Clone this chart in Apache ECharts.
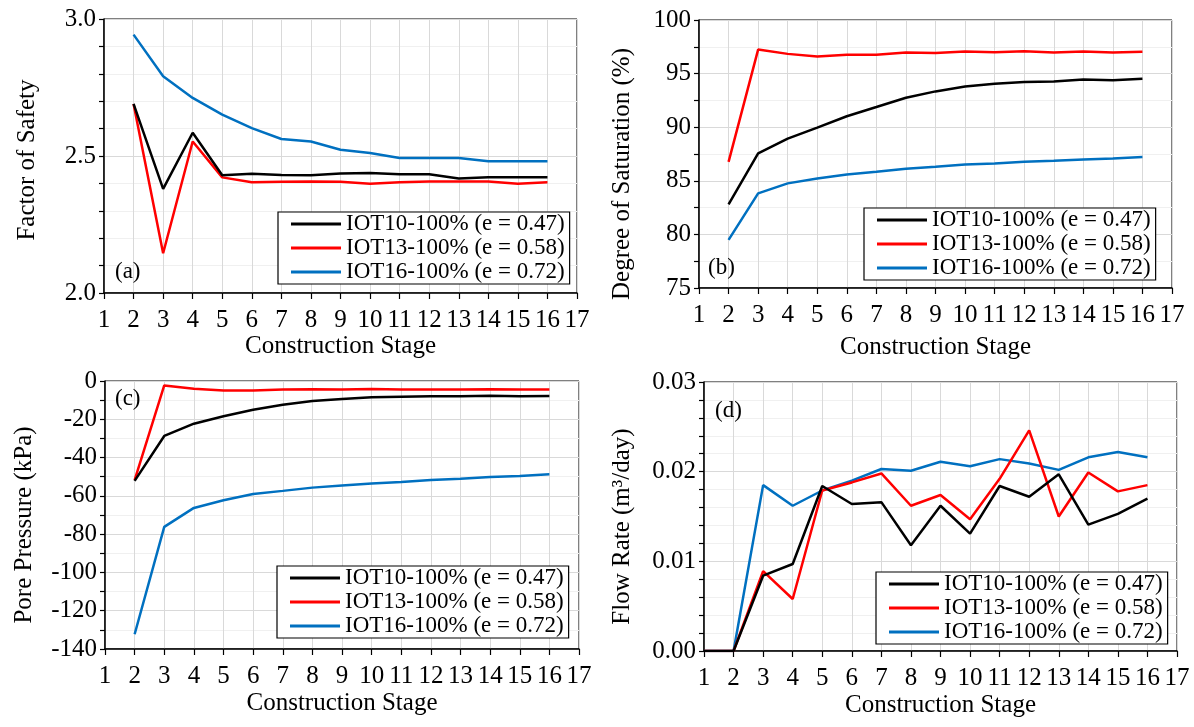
<!DOCTYPE html>
<html>
<head>
<meta charset="utf-8">
<script src="https://cdn.jsdelivr.net/npm/echarts@6/dist/echarts.min.js"></script>
<style>
html,body{margin:0;padding:0;background:#fff;}
#c{width:1194px;height:727px;}
</style>
</head>
<body>
<div id="c"></div>
<script>
// ---- data ----
const seriesNames = ['IOT10-100% (e = 0.47)', 'IOT13-100% (e = 0.58)', 'IOT16-100% (e = 0.72)'];
const colors = ['#000000', '#ff0000', '#0070c0'];

const stagesABC = [2,3,4,5,6,7,8,9,10,11,12,13,14,15,16];
const stagesD = [1,2,3,4,5,6,7,8,9,10,11,12,13,14,15,16];

// (a) Factor of Safety
const fosIOT10 = [2.69,2.38,2.585,2.43,2.435,2.431,2.43,2.436,2.438,2.433,2.433,2.418,2.422,2.422,2.422];
const fosIOT13 = [2.69,2.145,2.553,2.422,2.404,2.406,2.407,2.406,2.399,2.404,2.407,2.407,2.407,2.399,2.404];
const fosIOT16 = [2.943,2.791,2.712,2.651,2.602,2.562,2.553,2.523,2.511,2.493,2.493,2.493,2.481,2.481,2.481];

// (b) Degree of Saturation (%)
const satIOT10 = [82.8,87.55,88.94,89.96,91.02,91.88,92.75,93.34,93.8,94.05,94.21,94.27,94.45,94.39,94.52];
const satIOT13 = [86.77,97.24,96.84,96.59,96.75,96.75,96.96,96.93,97.06,97.0,97.09,96.96,97.06,96.96,97.03];
const satIOT16 = [79.49,83.83,84.76,85.22,85.59,85.84,86.12,86.31,86.52,86.62,86.77,86.87,86.99,87.08,87.21];

// (c) Pore Pressure (kPa)
const ppIOT10 = [-52.2,-28.7,-22.3,-18.4,-15.0,-12.4,-10.4,-9.4,-8.5,-8.2,-8.0,-8.0,-7.7,-8.0,-7.8];
const ppIOT13 = [-51.8,-2.3,-4.0,-4.9,-4.9,-4.5,-4.3,-4.5,-4.2,-4.5,-4.5,-4.5,-4.3,-4.5,-4.5];
const ppIOT16 = [-132.3,-76.2,-66.3,-62.3,-59.0,-57.4,-55.7,-54.6,-53.6,-52.7,-51.7,-51.0,-50.1,-49.6,-48.7];

// (d) Flow Rate (m3/day)
const frIOT10 = [0,0,0.0084,0.0097,0.0184,0.0164,0.0166,0.0118,0.0162,0.0131,0.0184,0.0172,0.0197,0.0141,0.0153,0.0170];
const frIOT13 = [0,0,0.0089,0.0058,0.0179,0.0188,0.0198,0.0162,0.0174,0.0147,0.0192,0.0246,0.0150,0.0199,0.0178,0.0185];
const frIOT16 = [0,0,0.0185,0.0162,0.0179,0.0190,0.0203,0.0201,0.0211,0.0206,0.0214,0.0209,0.0202,0.0216,0.0222,0.0216];

// x tick range and panel tags
const xMin = 1, xMax = 17;
const panelLabels = ['(a)', '(b)', '(c)', '(d)'];

// ---- build ----
const FONT = 'Times New Roman, Liberation Serif, serif';
const chart = echarts.init(document.getElementById('c'), null, {renderer: 'canvas'});

const grids = [
  {left: 104, top: 19, width: 473, height: 274},
  {left: 699, top: 20, width: 473, height: 268},
  {left: 105, top: 381, width: 474, height: 268},
  {left: 704, top: 382, width: 473, height: 269}
];

const yCfg = [
  {min: 2.0, max: 3.0, interval: 0.5, minor: 5, fmt: v => v.toFixed(1), name: 'Factor of Safety', gap: 64, shift: 8},
  {min: 75, max: 100, interval: 5, minor: 2, fmt: v => String(v), name: 'Degree of Saturation (%)', gap: 64, shift: 40},
  {min: -140, max: 0, interval: 20, minor: 2, fmt: v => String(v), name: 'Pore Pressure (kPa)', gap: 68, shift: 20},
  {min: 0, max: 0.03, interval: 0.01, minor: 5, fmt: v => v.toFixed(2), name: 'Flow Rate (m\u00B3/day)', gap: 69, shift: 20}
];
const xNameGap = [41, 47, 42, 42];

const xAxes = grids.map((g, i) => ({
  type: 'value', gridIndex: i, min: xMin, max: xMax, interval: 1,
  name: 'Construction Stage', nameLocation: 'middle', nameGap: xNameGap[i],
  nameTextStyle: {fontFamily: FONT, fontSize: 25, color: '#000'},
  axisLine: {show: true, onZero: false, lineStyle: {color: '#000', width: 1.5}},
  axisTick: {show: true, length: 6, lineStyle: {color: '#000', width: 1.2}},
  axisLabel: {fontFamily: FONT, fontSize: 25, color: '#000', margin: 15},
  splitLine: {show: true, lineStyle: {color: '#d9d9d9', width: 1}}
}));

const yAxes = yCfg.map((c, i) => ({
  type: 'value', gridIndex: i, min: c.min, max: c.max, interval: c.interval,
  name: c.name, nameLocation: 'middle', nameGap: c.gap, nameRotate: 90,
  nameTextStyle: {fontFamily: FONT, fontSize: 25, color: '#000', padding: [0, c.shift, 0, 0]},
  axisLine: {show: true, onZero: false, lineStyle: {color: '#000', width: 1.5}},
  axisTick: {show: true, length: 5, lineStyle: {color: '#000', width: 1.2}},
  minorTick: {show: true, splitNumber: c.minor, length: 5, lineStyle: {color: '#000', width: 1.2}},
  axisLabel: {fontFamily: FONT, fontSize: 25, color: '#000', margin: 8, formatter: c.fmt},
  splitLine: {show: true, lineStyle: {color: '#d9d9d9', width: 1}},
  minorSplitLine: {show: true, lineStyle: {color: '#f0f0f0', width: 1}}
}));

const panelData = [
  [stagesABC, [fosIOT10, fosIOT13, fosIOT16]],
  [stagesABC, [satIOT10, satIOT13, satIOT16]],
  [stagesABC, [ppIOT10, ppIOT13, ppIOT16]],
  [stagesD, [frIOT10, frIOT13, frIOT16]]
];

const series = [];
panelData.forEach((p, gi) => {
  const xs = p[0];
  p[1].forEach((vals, si) => {
    series.push({
      type: 'line', name: seriesNames[si], xAxisIndex: gi, yAxisIndex: gi,
      data: vals.map((v, k) => [xs[k], v]),
      symbol: 'none', showSymbol: false,
      lineStyle: {color: colors[si], width: 2.5},
      itemStyle: {color: colors[si]},
      animation: false, z: 5 - si
    });
  });
});

const legendPos = [
  {left: 278, top: 212},
  {left: 864, top: 208},
  {left: 277, top: 566},
  {left: 876, top: 572}
];
const legends = legendPos.map(p => ({
  left: p.left, top: p.top, orient: 'vertical',
  data: seriesNames.map(n => ({name: n, icon: 'rect'})),
  itemWidth: 50, itemHeight: 3, itemGap: 0,
  padding: [0, 5, 0, 13],
  backgroundColor: '#fff', borderColor: '#000', borderWidth: 1.2,
  selectedMode: false,
  textStyle: {fontFamily: FONT, fontSize: 23, color: '#000', lineHeight: 24, height: 24}
}));

const labelPos = [[115, 273], [708, 269], [115, 400], [715, 412]];
const graphics = labelPos.map((p, i) => ({
  type: 'text', left: p[0], top: p[1] - 13, z: 100,
  style: {text: panelLabels[i], fontFamily: FONT, fontSize: 23, fill: '#000'}
}));

chart.setOption({
  animation: false,
  grid: grids.map(g => Object.assign({show: true, borderColor: '#000', borderWidth: 1, backgroundColor: 'transparent'}, g)),
  xAxis: xAxes,
  yAxis: yAxes,
  legend: legends,
  series: series,
  graphic: graphics
});
</script>
</body>
</html>
